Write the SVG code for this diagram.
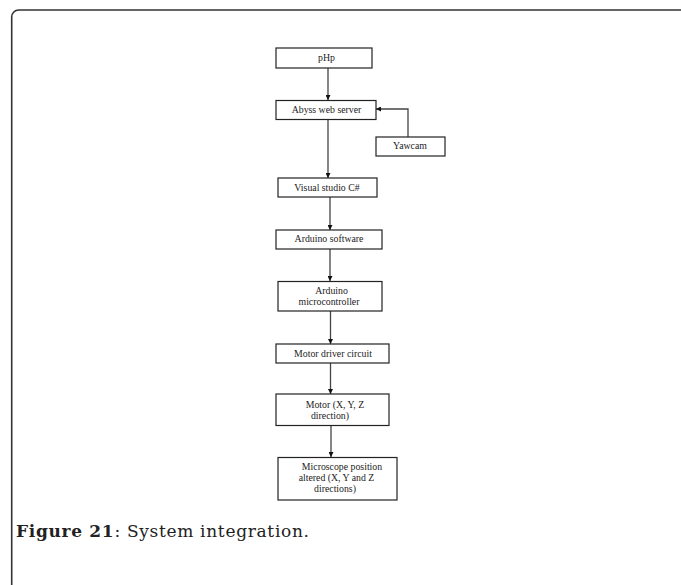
<svg xmlns="http://www.w3.org/2000/svg" width="681" height="585" viewBox="0 0 681 585">
<defs>
<style>
.box{fill:#fff;stroke:#222;stroke-width:1.2}
.t{font-family:"Liberation Serif","Times New Roman",serif;font-size:9.8px;fill:#222;text-anchor:middle}
.c{fill:none;stroke:#444;stroke-width:1.3}
.cap{font-family:"DejaVu Serif","Liberation Serif",serif;font-size:17px;fill:#222}
</style>
<marker id="ah" viewBox="0 0 10 10" refX="10" refY="5" markerWidth="5" markerHeight="5" markerUnits="userSpaceOnUse" orient="auto"><path d="M0,0 L10,5 L0,10 z" fill="#111"/></marker>
</defs>
<rect width="681" height="585" fill="#fff"/>
<rect x="11.7" y="10" width="720" height="640" rx="7" fill="none" stroke="#333" stroke-width="1.6"/>
<g id="connectors">
<line class="c" x1="328" y1="68" x2="328" y2="100" marker-end="url(#ah)"/>
<line class="c" x1="328" y1="120" x2="328" y2="178" marker-end="url(#ah)"/>
<line class="c" x1="330" y1="197" x2="330" y2="230" marker-end="url(#ah)"/>
<line class="c" x1="330" y1="249" x2="330" y2="281" marker-end="url(#ah)"/>
<line class="c" x1="330.5" y1="311" x2="330.5" y2="344" marker-end="url(#ah)"/>
<line class="c" x1="330.5" y1="363" x2="330.5" y2="394" marker-end="url(#ah)"/>
<line class="c" x1="331" y1="426" x2="331" y2="457" marker-end="url(#ah)"/>
<polyline class="c" points="408,137 408,109 376,109" marker-end="url(#ah)"/>
</g>
<g id="php"><rect class="box" x="276" y="48" width="96" height="20"/><text class="t" x="326.5" y="61">pHp</text></g>
<g id="abyss"><rect class="box" x="276" y="100.5" width="100" height="19"/><text class="t" x="326.5" y="113">Abyss web server</text></g>
<g id="yawcam"><rect class="box" x="376" y="137" width="69" height="19"/><text class="t" x="410" y="149">Yawcam</text></g>
<g id="visual"><rect class="box" x="278" y="178" width="99" height="19"/><text class="t" x="327" y="190.5">Visual studio C#</text></g>
<g id="arduino-sw"><rect class="box" x="276" y="230" width="106" height="19"/><text class="t" x="329" y="242">Arduino software</text></g>
<g id="arduino-mc"><rect class="box" x="278" y="281.5" width="104" height="29.5"/><text class="t" x="331.5" y="294">Arduino</text><text class="t" x="329" y="305">microcontroller</text></g>
<g id="driver"><rect class="box" x="276" y="344" width="113" height="19"/><text class="t" x="333" y="356.5">Motor driver circuit</text></g>
<g id="motor"><rect class="box" x="276" y="394" width="113" height="31.5"/><text class="t" x="335" y="407.5">Motor (X, Y, Z</text><text class="t" x="330" y="418.5">direction)</text></g>
<g id="microscope"><rect class="box" x="278" y="457.5" width="119" height="42.5"/><text class="t" x="342" y="469.5">Microscope position</text><text class="t" x="336.5" y="480.5">altered (X, Y and Z</text><text class="t" x="335" y="491.5">directions)</text></g>
<text class="cap" x="16" y="537" textLength="293" lengthAdjust="spacing"><tspan font-weight="bold">Figure 21</tspan>: System integration.</text>
</svg>
